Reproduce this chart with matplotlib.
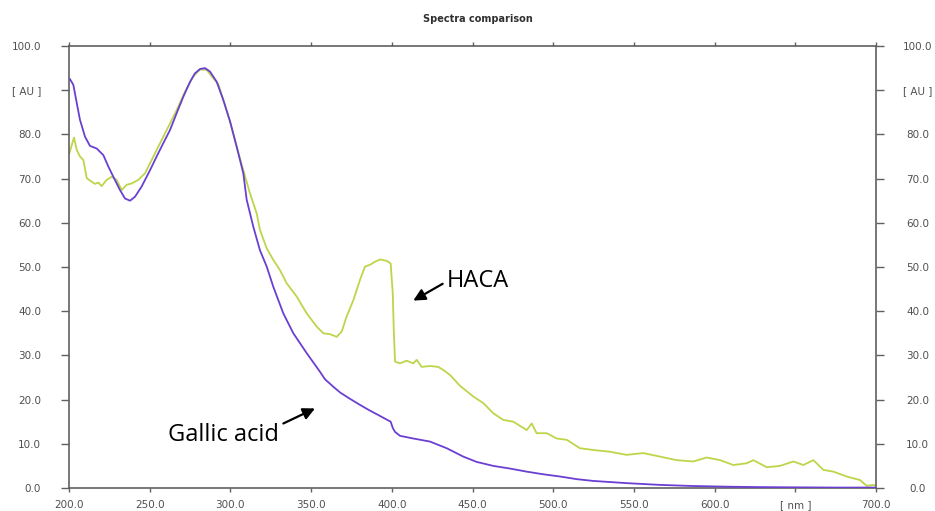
import matplotlib
matplotlib.use("Agg")
import matplotlib.pyplot as plt

# ---------------- data ----------------
gallic_nm = [200.6, 202.7, 204.8, 206.8, 209.9, 213.0, 217.2, 221.3, 224.4, 227.5, 231.6, 234.7,
             237.8, 240.9, 245.0, 250.2, 254.3, 258.4, 262.6, 266.7, 270.8, 275.0, 278.0, 281.2,
             284.3, 287.4, 291.5, 295.6, 299.8, 303.9, 308.0, 310.1, 314.2, 318.3, 322.5, 326.6,
             332.8, 339.0, 347.3, 355.5, 358.6, 363.8, 368.0, 374.0, 380.3, 386.5, 392.7, 399.3,
             400.6, 402.0, 405.1, 413.3, 423.7, 434.0, 444.3, 452.6, 462.9, 473.2, 483.6, 493.9,
             504.2, 514.6, 524.8, 545.5, 566.2, 586.8, 607.0, 628.0, 650.0, 675.0, 700.0]
gallic_au = [92.5, 91.2, 87.1, 83.3, 79.5, 77.4, 76.8, 75.3, 72.7, 70.4, 67.4, 65.5,
             65.0, 65.9, 68.2, 71.9, 75.0, 78.0, 81.0, 84.8, 88.5, 91.9, 93.8, 94.8,
             95.0, 94.2, 91.9, 87.8, 82.9, 77.2, 71.2, 65.2, 59.1, 53.8, 50.1, 45.5,
             39.5, 35.0, 30.5, 26.3, 24.6, 22.9, 21.6, 20.2, 18.8, 17.5, 16.3, 15.0,
             13.6, 12.7, 11.8, 11.2, 10.5, 9.0, 7.1, 5.9, 5.0, 4.4, 3.7, 3.1,
             2.6, 2.0, 1.6, 1.1, 0.7, 0.45, 0.3, 0.2, 0.15, 0.1, 0.1]

haca_nm = [200.2, 201.7, 203.1, 204.8, 206.8, 208.9, 211.0, 214.0, 216.1, 218.2, 220.2, 223.3,
           226.4, 229.5, 232.7, 235.7, 238.8, 242.9, 247.1, 251.2, 256.4, 261.5, 266.7, 271.9,
           277.0, 281.2, 285.3, 289.4, 292.5, 295.6, 299.8, 303.9, 308.0, 312.1, 316.3, 318.3,
           322.5, 326.6, 330.7, 334.9, 341.1, 347.3, 353.5, 357.6, 361.7, 365.9, 369.0, 372.0,
           376.2, 380.3, 383.4, 386.5, 389.6, 392.7, 396.8, 399.3, 400.6, 401.2, 402.0, 405.0,
           409.2, 413.3, 415.4, 418.5, 423.7, 428.8, 431.9, 436.0, 442.3, 450.5, 456.7, 462.9,
           469.1, 475.3, 483.6, 486.7, 489.7, 496.0, 502.2, 508.4, 516.6, 524.8, 535.2, 545.5,
           555.8, 566.2, 576.5, 586.8, 595.1, 603.4, 611.6, 619.9, 624.0, 632.3, 640.5, 648.8,
           655.0, 661.2, 667.4, 673.6, 681.8, 690.1, 694.2, 698.4, 700.0]
haca_au = [75.7, 77.6, 79.3, 76.5, 75.0, 74.2, 70.1, 69.3, 68.8, 69.1, 68.3, 69.7,
           70.4, 69.7, 67.4, 68.6, 68.9, 69.7, 71.2, 74.2, 78.0, 81.7, 85.5, 89.7,
           93.1, 94.7, 94.6, 92.7, 91.4, 87.8, 82.9, 77.2, 71.9, 66.7, 62.1, 58.4,
           54.2, 51.6, 49.3, 46.3, 43.3, 39.5, 36.5, 35.0, 34.8, 34.2, 35.4, 38.8,
           42.5, 47.1, 50.1, 50.5, 51.2, 51.7, 51.4, 50.8, 44.0, 36.0, 28.6, 28.2,
           28.8, 28.2, 29.0, 27.4, 27.6, 27.4, 26.7, 25.6, 23.1, 20.7, 19.2, 16.9,
           15.4, 15.0, 13.1, 14.6, 12.4, 12.4, 11.2, 10.9, 9.0, 8.6, 8.2, 7.5,
           7.9, 7.1, 6.3, 6.0, 6.9, 6.3, 5.2, 5.6, 6.3, 4.7, 5.0, 6.0,
           5.2, 6.3, 4.1, 3.7, 2.6, 1.8, 0.5, 0.7, 0.6]

x_ticks = [200, 250, 300, 350, 400, 450, 500, 550, 600, 650, 700]
x_tick_labels = ["200.0", "250.0", "300.0", "350.0", "400.0", "450.0", "500.0",
                 "550.0", "600.0", "[ nm ]", "700.0"]
y_ticks = [0, 10, 20, 30, 40, 50, 60, 70, 80, 90, 100]
y_tick_labels = ["0.0", "10.0", "20.0", "30.0", "40.0", "50.0", "60.0", "70.0",
                 "80.0", "[ AU ]", "100.0"]

title = "Spectra comparison"
label_haca = "HACA"
label_gallic = "Gallic acid"

# ---------------- figure ----------------
W, H = 935, 511
fig = plt.figure(figsize=(W / 100, H / 100), dpi=100)
ax = fig.add_axes([69 / W, 1 - 488 / H, (876 - 69) / W, (488 - 46) / H])

green = "#bcd64a"
purple = "#6a3fd2"
ax.plot(haca_nm, haca_au, color=green, lw=1.3, zorder=2)
ax.plot(gallic_nm, gallic_au, color=purple, lw=1.3, zorder=3)

ax.set_xlim(200, 700)
ax.set_ylim(0, 100)

spine_col = "#606060"
for s in ax.spines.values():
    s.set_color(spine_col)
    s.set_linewidth(1.2)

lab_col = "#505050"
ax.set_xticks(x_ticks)
ax.set_xticklabels(x_tick_labels)
ax.set_yticks(y_ticks)
ax.set_yticklabels(y_tick_labels)
ax.tick_params(axis="x", which="major", direction="out", length=3, width=1,
               color=spine_col, labelsize=7.5, labelcolor=lab_col, pad=6,
               top=True, labeltop=False)
ax.tick_params(axis="y", which="major", direction="out", length=6, width=1,
               color=spine_col, labelsize=7.5, labelcolor=lab_col, pad=14,
               right=False)

ax2 = ax.twinx()
ax2.set_ylim(0, 100)
ax2.set_yticks(y_ticks)
ax2.set_yticklabels(y_tick_labels)
for s in ax2.spines.values():
    s.set_visible(False)
ax2.tick_params(axis="y", which="major", direction="out", length=6, width=1,
                color=spine_col, labelsize=7.5, labelcolor=lab_col, pad=24)
for lbl in ax2.get_yticklabels():
    lbl.set_horizontalalignment("center")

fig.text(477.5 / W, 1 - 19 / H, title, ha="center", va="center",
         fontsize=7, fontweight="bold", color="#303030")

ann_font = dict(family=["Open Sans", "DejaVu Sans"], fontsize=17, color="black")
ax.annotate("", xy=(413.3, 42.4), xytext=(431.5, 46.2),
            arrowprops=dict(arrowstyle="-|>,head_length=0.7,head_width=0.35",
                            color="black", lw=1.6, shrinkA=0, shrinkB=0))
ax.text(433.8, 46.9, label_haca, ha="left", va="center", **ann_font)

ax.annotate("", xy=(352.4, 18.0), xytext=(332.8, 14.6),
            arrowprops=dict(arrowstyle="-|>,head_length=0.7,head_width=0.35",
                            color="black", lw=1.6, shrinkA=0, shrinkB=0))
ax.text(295.7, 12.0, label_gallic, ha="center", va="center", **ann_font)

fig.savefig("out.png", dpi=100)
